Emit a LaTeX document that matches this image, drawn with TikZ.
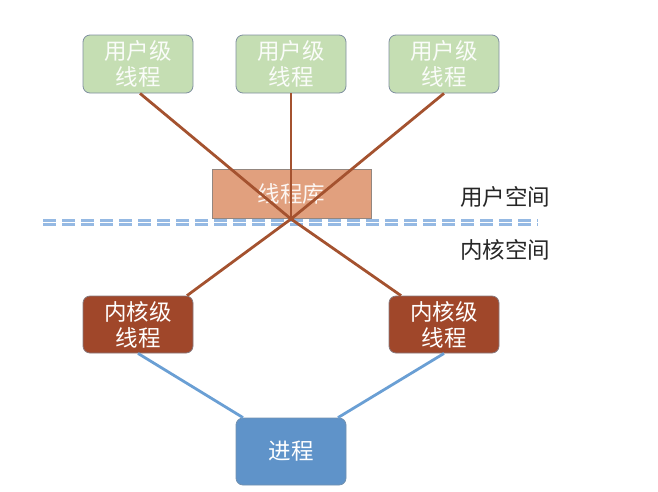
\documentclass[tikz,border=0pt]{standalone}
\usepackage{fontspec}
\setmainfont{Noto Sans CJK SC}
\newfontfamily\cjk{Noto Sans CJK SC}
\definecolor{ugreen}{HTML}{C5DEB3}
\definecolor{uborder}{HTML}{7F8FA0}
\definecolor{libfill}{HTML}{E1A07E}
\definecolor{kfill}{HTML}{A0472A}
\definecolor{pfill}{HTML}{5F93C9}
\definecolor{brownline}{HTML}{A4522F}
\definecolor{blueline}{HTML}{6A9FD4}
\definecolor{dashblue}{HTML}{95B9E3}
\tikzset{
  base/.style={rounded corners=7pt, minimum width=110pt, align=center, inner sep=0pt,
    font=\cjk\fontsize{22.5pt}{26pt}\selectfont, text=white, line width=0.8pt},
  ubox/.style={base, fill=ugreen, draw=uborder, minimum height=58pt, text=white!92!ugreen},
  kbox/.style={base, fill=kfill, draw=uborder!70!kfill, minimum height=57pt},
  pbox/.style={base, fill=pfill, draw=uborder!60!pfill, minimum height=67pt},
  libbox/.style={draw=gray!80!libfill, fill=libfill, minimum width=159pt, minimum height=49pt,
    inner sep=0pt, font=\cjk\fontsize{22.5pt}{26pt}\selectfont, text=white!90!libfill, line width=0.6pt},
  conn/.style={draw=brownline, line width=2.8pt},
  pconn/.style={draw=blueline, line width=2.8pt},
  dline/.style={draw=dashblue, line width=2.4pt, dash pattern=on 13pt off 6pt},
  lbl/.style={font=\cjk\fontsize{22.5pt}{26pt}\selectfont, text=black!85, inner sep=0pt}
}
\begin{document}
\begin{tikzpicture}[x=1pt,y=-1pt]
\useasboundingbox (0,0) rectangle (658,491);
\node[ubox] (u1) at (138,64) {用户级\\线程};
\node[ubox] (u2) at (291,64) {用户级\\线程};
\node[ubox] (u3) at (444,64) {用户级\\线程};
\node[libbox] (lib) at (291.5,193.5) {线程库};
\coordinate (d1a) at (43,220.5);
\coordinate (d1b) at (538,220.5);
\coordinate (d2a) at (43,224.5);
\coordinate (d2b) at (538,224.5);
\draw[dline] (d1a) -- (d1b);
\draw[dline] (d2a) -- (d2b);
\node[lbl] (us) at (505,197) {用户空间};
\node[lbl] (ks) at (505,250) {内核空间};
\node[kbox] (k1) at (138,324.5) {内核级\\线程};
\node[kbox] (k2) at (444,324.5) {内核级\\线程};
\node[pbox] (p) at (291,451.5) {进程};
\coordinate (X) at (291,219);
\draw[conn] ([xshift=2pt]u1.south) -- (X) -- ([xshift=-43pt]k2.north);
\draw[conn] (u3.south) -- (X) -- ([xshift=49pt]k1.north);
\draw[conn] (u2.south) -- (X);
\draw[pconn] (k1.south) -- ([xshift=-48pt]p.north);
\draw[pconn] (k2.south) -- ([xshift=47pt]p.north);
\end{tikzpicture}
\end{document}
